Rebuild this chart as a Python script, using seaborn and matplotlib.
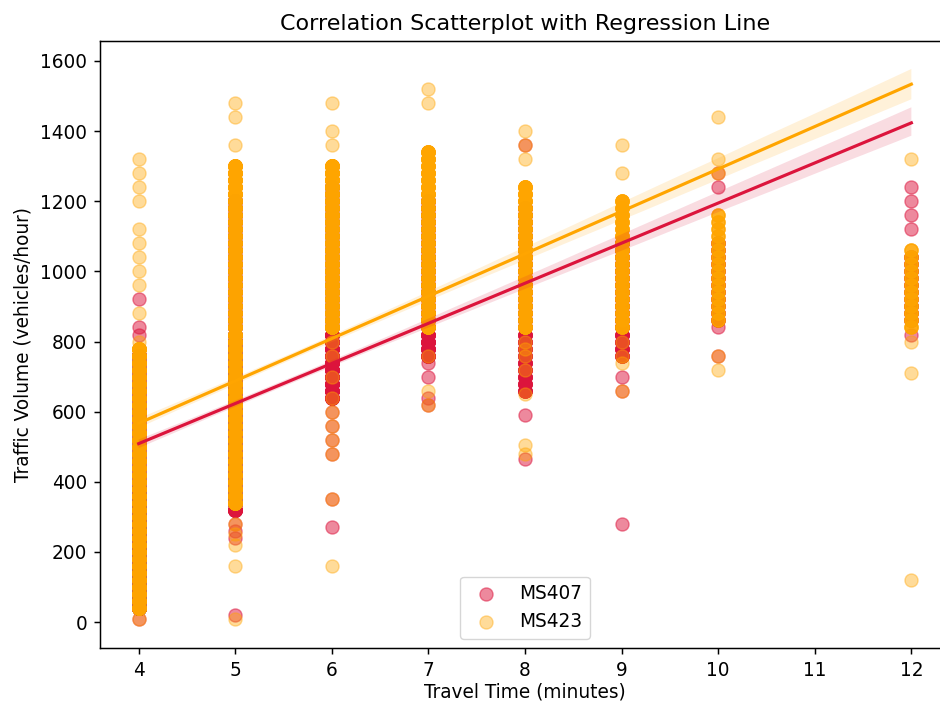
import numpy as np
import pandas as pd
import matplotlib
matplotlib.use("Agg")
import matplotlib.pyplot as plt
import seaborn as sns

# ---------------- data (volumes; counts estimate how many readings overlap) ----------------
travel_times = [4, 5, 6, 7, 8, 9, 10, 12]

# MS423 (orange)
ms423_v4 = [10,
            40, 60, 80, 100, 120, 140, 160, 180, 200, 220, 240, 260, 280, 300, 320, 340, 360, 380,
            400, 420, 440, 460, 480, 500, 520, 540, 560, 580, 600, 620, 640, 660, 680, 700, 720, 740, 760, 780,
            800, 880, 960, 1000, 1040, 1080, 1120, 1200, 1240, 1280, 1320]
ms423_c4 = [1,
            34, 34, 34, 34, 34, 34, 34, 34, 34, 34, 34, 34, 34, 34, 34, 34, 34, 34,
            28, 28, 28, 28, 28, 28, 28, 28, 28, 28, 28, 28, 28, 28, 28, 28, 28, 28, 28, 28,
            1, 1, 1, 1, 1, 1, 1, 1, 1, 1, 1]
ms423_v5 = [10, 160, 220, 250, 280,
            340, 360, 380, 400, 420, 440, 460, 480, 500, 520, 540, 560, 580, 600, 620, 640, 660, 680, 700, 720,
            740, 760, 780, 800,
            820, 840, 860, 880, 900, 920, 940, 960, 980, 1000, 1020, 1040, 1060, 1080, 1100, 1120, 1140, 1160,
            1180, 1200, 1220, 1240, 1260, 1280, 1300,
            1360, 1440, 1480]
ms423_c5 = [1, 1, 1, 1, 1,
            30, 30, 30, 30, 30, 30, 30, 30, 30, 30, 30, 30, 30, 30, 30, 30, 30, 30, 30, 30,
            30, 30, 30, 30,
            18, 18, 18, 18, 18, 18, 18, 18, 18, 18, 18, 18, 18, 18, 18, 18, 18, 18,
            18, 18, 18, 18, 18, 18, 18,
            1, 1, 1]
ms423_v6 = [160, 350, 480, 520, 560, 600, 640, 700, 760, 800,
            840, 860, 880, 900, 920, 940, 960, 980, 1000, 1020, 1040, 1060, 1080, 1100, 1120, 1140, 1160,
            1180, 1200, 1220, 1240, 1260, 1280, 1300,
            1360, 1400, 1480]
ms423_c6 = [1, 1, 1, 1, 1, 1, 1, 1, 1, 1,
            24, 24, 24, 24, 24, 24, 24, 24, 24, 24, 24, 24, 24, 24, 24, 24, 24,
            24, 24, 24, 24, 24, 24, 24,
            1, 1, 1]
ms423_v7 = [620, 660, 760,
            840, 860, 880, 900, 920, 940, 960, 980, 1000, 1020, 1040, 1060, 1080, 1100, 1120, 1140, 1160,
            1180, 1200, 1220, 1240, 1260, 1280, 1300, 1320, 1340,
            1480, 1520]
ms423_c7 = [1, 1, 1,
            12, 12, 12, 12, 12, 12, 12, 12, 12, 12, 12, 12, 12, 12, 12, 12, 12,
            12, 12, 12, 12, 12, 12, 12, 12, 12,
            1, 1]
ms423_v8 = [480, 505, 650, 720, 760, 780, 800,
            840, 860, 880, 900, 920, 940, 960, 980, 1000, 1020, 1040, 1060, 1080, 1100, 1120, 1140, 1160,
            1180, 1200, 1220, 1240,
            1320, 1360, 1400]
ms423_c8 = [1, 1, 1, 1, 1, 1, 1,
            12, 12, 12, 12, 12, 12, 12, 12, 12, 12, 12, 12, 12, 12, 12, 12, 12,
            12, 12, 12, 12,
            1, 1, 1]
ms423_v9 = [660, 740, 760, 800,
            840, 860, 880, 900, 920, 940, 960, 980, 1000, 1020, 1040, 1060, 1080, 1100, 1120, 1140, 1160,
            1180, 1200,
            1280, 1360]
ms423_c9 = [1, 1, 1, 1,
            8, 8, 8, 8, 8, 8, 8, 8, 8, 8, 8, 8, 8, 8, 8, 8, 8,
            8, 8,
            1, 1]
ms423_v10 = [720, 760,
             860, 880, 900, 920, 940, 960, 980, 1000, 1020, 1040, 1060, 1080, 1100, 1120, 1140, 1160,
             1280, 1320, 1440]
ms423_c10 = [1, 1,
             4, 4, 4, 4, 4, 4, 4, 4, 4, 4, 4, 4, 4, 4, 4, 4,
             1, 1, 1]
ms423_v12 = [120, 710, 800,
             840, 860, 880, 900, 920, 940, 960, 980, 1000, 1020, 1040, 1060,
             1320]
ms423_c12 = [1, 1, 1,
             5, 5, 5, 5, 5, 5, 4, 4, 4, 4, 4, 4,
             1]

# MS407 (crimson)
ms407_v4 = [10,
            40, 60, 80, 100, 120, 140, 160, 180, 200, 220, 240, 260, 280, 300, 320, 340, 360, 380,
            400, 420, 440, 460, 480, 500, 520, 540, 560, 580, 600, 620, 640, 660, 680, 700, 720, 740, 760,
            820, 840, 920]
ms407_c4 = [1,
            36, 36, 36, 36, 36, 36, 36, 36, 36, 36, 36, 36, 36, 36, 36, 36, 36, 36,
            26, 26, 26, 26, 26, 26, 26, 26, 26, 26, 26, 26, 26, 26, 26, 26, 26, 26, 26,
            1, 1, 1]
ms407_v5 = [20, 240, 260, 280,
            320, 340, 360, 380, 400, 420, 440, 460, 480, 500, 520, 540, 560, 580, 600, 620, 640, 660, 680,
            700, 720, 740, 760, 780, 800,
            820, 840, 860, 880, 900, 920, 940, 960, 980, 1000, 1020, 1040, 1060, 1080, 1100, 1120, 1140,
            1160, 1180, 1200]
ms407_c5 = [1, 1, 1, 1,
            30, 30, 30, 30, 30, 30, 30, 30, 30, 30, 30, 30, 30, 30, 30, 30, 30, 30, 30,
            30, 30, 30, 30, 30, 30,
            18, 18, 18, 18, 18, 18, 18, 18, 18, 18, 18, 18, 18, 18, 18, 18, 18,
            18, 18, 18]
ms407_v6 = [270, 350, 480, 520, 560, 600,
            640, 660, 680, 700, 720, 740, 760, 780, 800, 820, 840, 860, 880, 900, 920, 940, 960, 980, 1000,
            1020, 1040, 1060, 1080, 1100, 1120, 1140, 1160, 1180, 1200, 1220, 1240]
ms407_c6 = [1, 1, 1, 1, 1, 1,
            16, 16, 16, 16, 16, 16, 16, 16, 16, 16, 16, 16, 16, 16, 16, 16, 16, 16, 16,
            16, 16, 16, 16, 16, 16, 16, 16, 16, 16, 16, 16]
ms407_v7 = [620, 640, 700, 740,
            760, 780, 800, 820, 840, 860, 880, 900, 920, 940, 960, 980, 1000, 1020, 1040, 1060, 1080, 1100,
            1120, 1140, 1160, 1180, 1200]
ms407_c7 = [1, 1, 1, 1,
            12, 12, 12, 12, 12, 12, 12, 12, 12, 12, 12, 12, 12, 12, 12, 12, 12, 12,
            12, 12, 12, 12, 12]
ms407_v8 = [465, 590,
            660, 680, 700, 720, 740, 760, 780, 800, 820, 840, 860, 880, 900, 920, 940, 960, 980, 1000, 1020,
            1040, 1060, 1080, 1100, 1120, 1140, 1160, 1180,
            1360]
ms407_c8 = [1, 1,
            8, 8, 8, 8, 8, 8, 8, 8, 8, 8, 8, 8, 8, 8, 8, 8, 8, 8, 8,
            8, 8, 8, 8, 8, 8, 8, 8,
            1]
ms407_v9 = [280, 660, 700,
            760, 780, 800, 820, 840, 860, 880, 900, 920, 940, 960, 980, 1000, 1020, 1040, 1060, 1080]
ms407_c9 = [1, 1, 1,
            8, 8, 8, 8, 8, 8, 8, 8, 8, 8, 8, 8, 8, 8, 8, 8, 8]
ms407_v10 = [760, 840,
             860, 880, 900, 920, 940, 960, 980, 1000, 1020, 1040, 1060, 1080,
             1240, 1280]
ms407_c10 = [1, 1,
             4, 4, 4, 4, 4, 4, 4, 4, 4, 4, 4, 4,
             1, 1]
ms407_v12 = [820,
             860, 880, 900, 920, 940, 960, 980, 1000, 1020, 1040,
             1120, 1160, 1200, 1240]
ms407_c12 = [1,
             4, 4, 4, 4, 4, 4, 4, 4, 4, 4,
             1, 1, 1, 1]

series_labels = ["MS407", "MS423"]


def build(values, counts):
    times, vols = [], []
    for t, v, c in zip(travel_times, values, counts):
        rep = np.repeat(np.asarray(v, dtype=float), np.asarray(c, dtype=int))
        vols.append(rep)
        times.append(np.full(rep.size, t, dtype=float))
    return pd.DataFrame({"Travel Time": np.concatenate(times), "Traffic Volume": np.concatenate(vols)})


df407 = build([ms407_v4, ms407_v5, ms407_v6, ms407_v7, ms407_v8, ms407_v9, ms407_v10, ms407_v12],
              [ms407_c4, ms407_c5, ms407_c6, ms407_c7, ms407_c8, ms407_c9, ms407_c10, ms407_c12])
df423 = build([ms423_v4, ms423_v5, ms423_v6, ms423_v7, ms423_v8, ms423_v9, ms423_v10, ms423_v12],
              [ms423_c4, ms423_c5, ms423_c6, ms423_c7, ms423_c8, ms423_c9, ms423_c10, ms423_c12])

# ---------------- style ----------------
k = 4 / 3
plt.rcParams.update({
    "font.family": ["DejaVu Sans"],
    "font.size": 10 * k,
    "axes.linewidth": 0.8 * k,
    "axes.titlepad": 6 * k,
    "xtick.major.size": 3.5 * k, "ytick.major.size": 3.5 * k,
    "xtick.major.width": 0.8 * k, "ytick.major.width": 0.8 * k,
    "xtick.major.pad": 3.5 * k, "ytick.major.pad": 3.5 * k,
})

c407 = "#DC143C"
c423 = "#FFA500"

fig = plt.figure(figsize=(9.4, 7.02), dpi=100)
ax = fig.add_axes([100 / 940, 54 / 702, 850 / 940, 607 / 702])

sns.regplot(data=df407, x="Travel Time", y="Traffic Volume", ax=ax, fit_reg=False, color=c407,
            scatter_kws=dict(alpha=0.5, s=50 * k * k), label=series_labels[0])
sns.regplot(data=df423, x="Travel Time", y="Traffic Volume", ax=ax, fit_reg=False, color=c423,
            scatter_kws=dict(alpha=0.4, s=50 * k * k), label=series_labels[1])
sns.regplot(data=df407, x="Travel Time", y="Traffic Volume", ax=ax, scatter=False, color=c407,
            line_kws=dict(lw=1.7 * k), seed=1)
sns.regplot(data=df423, x="Travel Time", y="Traffic Volume", ax=ax, scatter=False, color=c423,
            line_kws=dict(lw=1.7 * k), seed=1)

ax.set_xlim(3.6, 12.4)
ax.set_ylim(-74, 1657)
ax.set_title("Correlation Scatterplot with Regression Line")
ax.set_xlabel("Travel Time (minutes)", labelpad=1.5)
ax.set_ylabel("Traffic Volume (vehicles/hour)", labelpad=4 * k)
ax.legend(loc="lower center")

fig.savefig("out.png", dpi=100)
